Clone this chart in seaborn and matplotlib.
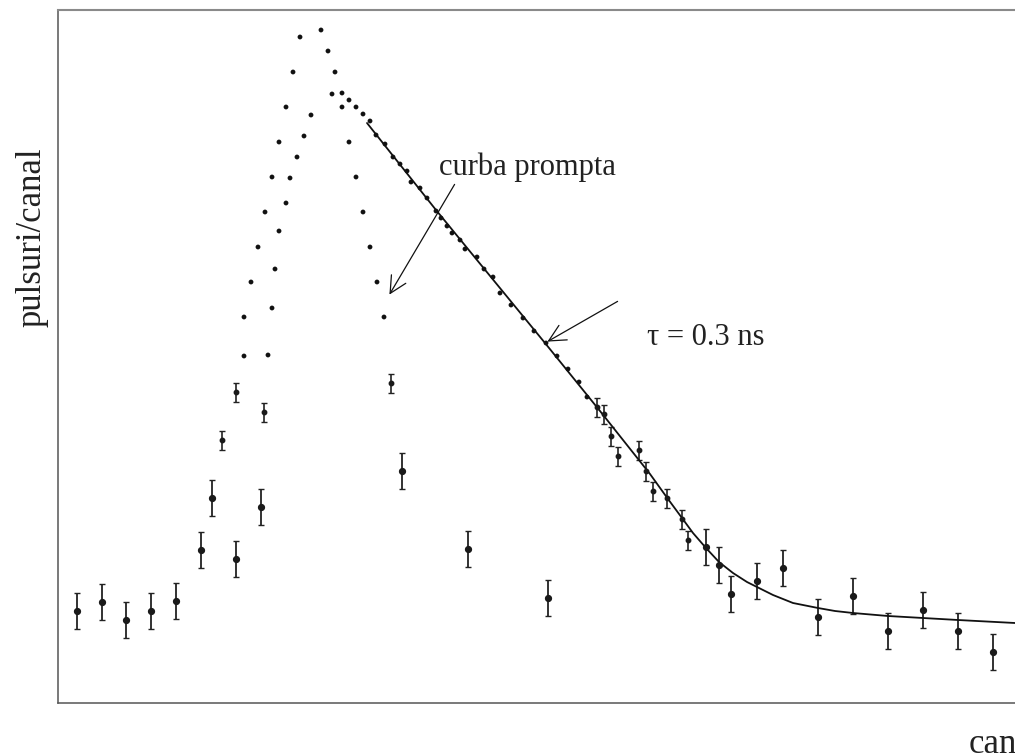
import numpy as np
import pandas as pd
import matplotlib
matplotlib.use("Agg")
import matplotlib.pyplot as plt
import seaborn as sns

sns.set_theme(style="white")
plt.rcParams['font.family'] = ['Liberation Serif', 'DejaVu Serif']

# dots without error bars (channel, counts in arbitrary units)
dots_x = [263, 242, 270, 235, 277, 274, 284, 291, 228, 284, 298, 253, 305, 312,
          221, 246, 291, 239, 214, 232, 298, 228, 207, 305, 221, 200, 312, 217,
          193, 319, 214, 186, 326, 186, 210,
          318, 327, 335, 342, 349, 353, 362, 369, 378, 383, 389, 394, 402, 407,
          419, 426, 435, 442, 453, 465, 476, 488, 499, 510, 521, 529]
dots_y = [673, 666, 652, 631, 631, 609, 610, 603, 596, 596, 596, 588, 589, 582,
          561, 567, 561, 546, 526, 525, 526, 500, 491, 491, 472, 456, 456, 434,
          421, 421, 395, 386, 386, 347, 348,
          568, 559, 546, 539, 532, 521, 515, 505, 492, 485, 477, 470, 463, 454,
          446, 434, 426, 410, 398, 385, 372, 360, 347, 334, 321, 306]

# points with statistical error bars
err_x = [164, 178, 206, 333, 539, 546, 553, 560, 581, 588, 595, 609, 624, 630,
         19, 44, 68, 93, 118, 143, 154, 178, 203, 344, 410, 490,
         648, 661, 673, 699, 725, 760, 795, 830, 865, 900, 935]
err_y = [263, 311, 291, 320, 296, 289, 267, 247, 253, 232, 212, 205, 184, 163,
         92, 101, 83, 92, 102, 153, 205, 144, 196, 232, 154, 105,
         156, 138, 109, 122, 135, 86, 107, 72, 93, 72, 51]
err_e = [9.5] * 14 + [18] * 23

# fitted curve, tau = 0.3 ns
fit_x = [309, 378, 487, 542, 592, 610, 624, 635, 648, 661, 675, 689, 699, 715,
         735, 760, 777, 795, 830, 865, 900, 957]
fit_y = [580, 493, 360, 292, 229, 204, 185, 170, 155, 141, 130, 121, 116, 108,
         100, 95, 92, 90, 87, 85, 83, 80]

fig = plt.figure(figsize=(10.15, 7.55), dpi=100)
ax = fig.add_axes([58 / 1015, 52 / 755, 1042 / 1015, 693 / 755])

big = np.array(err_e) > 10
ax.errorbar(np.array(err_x)[big], np.array(err_y)[big], yerr=np.array(err_e)[big],
            fmt='o', ms=4.2, color='#1a1a1a', ecolor='#222222', elinewidth=1.3,
            capsize=2.2, capthick=1.0)
ax.errorbar(np.array(err_x)[~big], np.array(err_y)[~big], yerr=np.array(err_e)[~big],
            fmt='o', ms=3.2, color='#1a1a1a', ecolor='#222222', elinewidth=1.2,
            capsize=2.2, capthick=1.0)

sns.scatterplot(x=dots_x, y=dots_y, ax=ax, s=12, color='#111111', edgecolor='none')
sns.lineplot(x=fit_x, y=fit_y, ax=ax, color='#111111', linewidth=1.3)

ax.set_xlim(0, 1042)
ax.set_ylim(0, 693)
ax.set_xticks([])
ax.set_yticks([])
for side in ['left', 'bottom']:
    ax.spines[side].set_color('#555555')
    ax.spines[side].set_linewidth(1.1)
ax.spines['top'].set_color('#8a8a8a')
ax.spines['top'].set_linewidth(1.5)
ax.spines['right'].set_visible(False)

arrow = dict(arrowstyle='->', color='#111111', lw=0.9, mutation_scale=30)
ax.annotate('', xy=(330, 406), xytext=(398, 521), arrowprops=arrow)
ax.annotate('', xy=(487, 360), xytext=(562, 403), arrowprops=arrow)
ax.text(381, 528, 'curba prompta', fontsize=22, va='baseline', color='#222222')
ax.text(589, 358, 'τ = 0.3 ns', fontsize=22, va='baseline', color='#222222')

fig.text(32 / 1015, 1 - 237.5 / 755, 'pulsuri/canal', rotation=90, fontsize=25,
         ha='center', va='center', color='#222222')
fig.text(969 / 1015, 0.003, 'canal', fontsize=25, ha='left', va='baseline',
         color='#222222')

fig.savefig('out.png', dpi=100)
